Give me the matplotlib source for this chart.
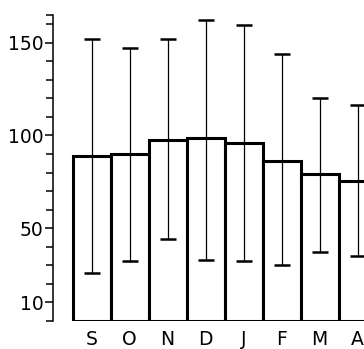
import numpy as np
import matplotlib
matplotlib.use("Agg")
import matplotlib.pyplot as plt
from matplotlib.ticker import FixedLocator

months = ["S", "O", "N", "D", "J", "F", "M", "A"]
means = [89, 89.8, 97.5, 98.6, 95.7, 86.4, 79.2, 75.6]
upper = [151.8, 147.3, 151.8, 162.2, 159.5, 143.8, 120.4, 116.4]
lower = [26, 32.1, 44, 33, 32.1, 30.3, 36.9, 34.9]
yticks = [10, 50, 100, 150]
minor_ticks = [0, 20, 30, 40, 60, 70, 80, 90, 110, 120, 130, 140, 160, 165]

plt.rcParams['font.family'] = ['DejaVu Sans']

fig = plt.figure(figsize=(3.64, 3.49), dpi=100)
ax = fig.add_axes([0.1456, 0.081, 0.92, 0.876])

x = np.arange(len(months))
means = np.array(means)
yerr = [means - np.array(lower), np.array(upper) - means]

ax.bar(x, means, width=1.0, color="white", edgecolor="black", linewidth=2.2, zorder=2)
ax.errorbar(x, means, yerr=yerr, fmt="none", ecolor="black", elinewidth=0.9,
            capsize=5.8, capthick=1.8, zorder=3)

ax.set_xlim(-1.02, 7.8)
ax.set_ylim(0, 165)

for s in ["top", "right", "bottom"]:
    ax.spines[s].set_visible(False)
ax.spines["left"].set_linewidth(1.1)

ax.set_yticks(yticks)
ax.set_yticklabels([str(v) for v in yticks], fontsize=13.5)
ax.yaxis.set_minor_locator(FixedLocator(minor_ticks))
ax.tick_params(axis="y", which="major", length=6, width=1.1, pad=1)
ax.tick_params(axis="y", which="minor", length=5, width=1.1)

ax.set_xticks(x)
ax.set_xticklabels(months, fontsize=13.5)
ax.tick_params(axis="x", length=0, pad=7)

fig.savefig("out.png", dpi=100)
